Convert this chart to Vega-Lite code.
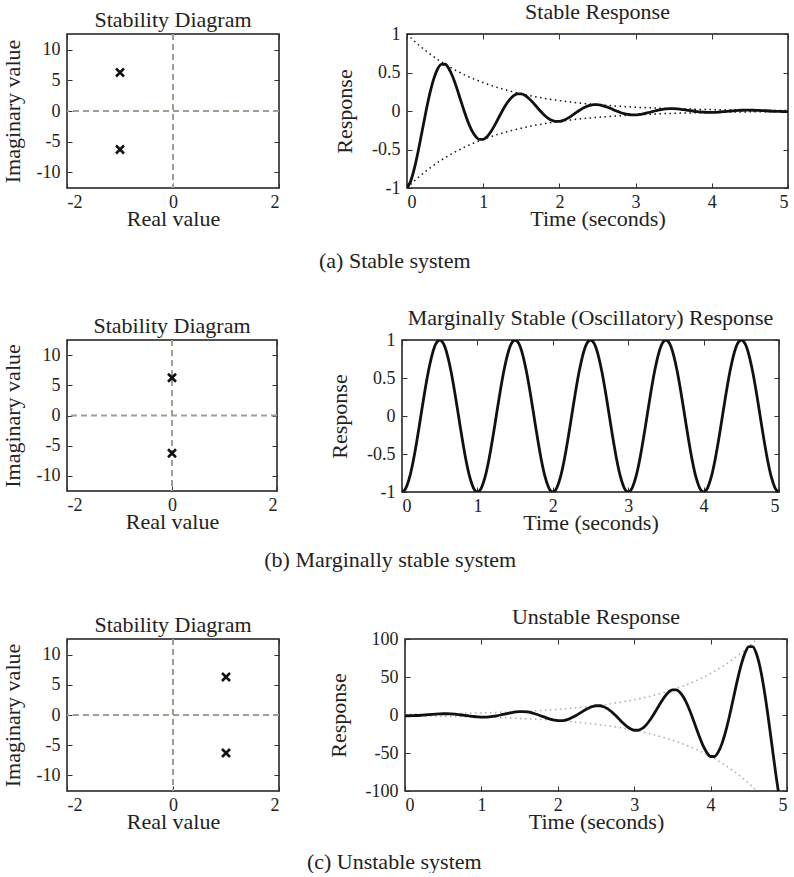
{
  "$schema": "https://vega.github.io/schema/vega-lite/v6.json",
  "background": "white",
  "padding": {"left": 0, "top": 0, "right": 0, "bottom": 0},
  "config": {
    "font": "Liberation Serif, Times New Roman, DejaVu Serif, serif",
    "view": {"stroke": "#1a1a1a", "strokeWidth": 1.5},
    "axis": {"domain": false, "grid": false, "tickSize": -5, "tickColor": "#333", "tickWidth": 1,
      "labelFont": "Liberation Serif, Times New Roman, DejaVu Serif, serif", "labelFontSize": 18, "labelColor": "#222",
      "titleFont": "Liberation Serif, Times New Roman, DejaVu Serif, serif", "titleFontSize": 22, "titleFontWeight": "normal", "titleColor": "#222",
      "labelExpr": "'' + datum.value"},
    "axisBottom": {"labelPadding": 10, "titlePadding": -3},
    "axisLeft": {"labelPadding": 12, "titlePadding": 12},
    "title": {"font": "Liberation Serif, Times New Roman, DejaVu Serif, serif", "fontSize": 22, "fontWeight": "normal", "color": "#222", "frame": "group", "offset": 1}
  },
  "datasets": {
    "poles": [
      {"sys": "a", "re": -1, "im": 6.283}, {"sys": "a", "re": -1, "im": -6.283},
      {"sys": "b", "re": 0, "im": 6.283}, {"sys": "b", "re": 0, "im": -6.283},
      {"sys": "c", "re": 1, "im": 6.283}, {"sys": "c", "re": 1, "im": -6.283}
    ],
    "axes0": [{"v": 0}],
    "resp": [
{"t":0,"s":-1,"se":1,"sl":-1,"m":-1,"u":-1,"ue":1,"ul":-1},
{"t":0.05,"s":-0.905,"se":0.951,"sl":-0.951,"m":-0.951,"u":-1.0,"ue":1.051,"ul":-1.051},
{"t":0.1,"s":-0.732,"se":0.905,"sl":-0.905,"m":-0.809,"u":-0.894,"ue":1.105,"ul":-1.105},
{"t":0.15,"s":-0.506,"se":0.861,"sl":-0.861,"m":-0.588,"u":-0.683,"ue":1.162,"ul":-1.162},
{"t":0.2,"s":-0.253,"se":0.819,"sl":-0.819,"m":-0.309,"u":-0.377,"ue":1.221,"ul":-1.221},
{"t":0.25,"s":0,"se":0.779,"sl":-0.779,"m":0,"u":0,"ue":1.284,"ul":-1.284},
{"t":0.3,"s":0.229,"se":0.741,"sl":-0.741,"m":0.309,"u":0.417,"ue":1.35,"ul":-1.35},
{"t":0.35,"s":0.414,"se":0.705,"sl":-0.705,"m":0.588,"u":0.834,"ue":1.419,"ul":-1.419},
{"t":0.4,"s":0.542,"se":0.67,"sl":-0.67,"m":0.809,"u":1.207,"ue":1.492,"ul":-1.492},
{"t":0.45,"s":0.606,"se":0.638,"sl":-0.638,"m":0.951,"u":1.491,"ue":1.568,"ul":-1.568},
{"t":0.5,"s":0.607,"se":0.607,"sl":-0.607,"m":1,"u":1.649,"ue":1.649,"ul":-1.649},
{"t":0.55,"s":0.549,"se":0.577,"sl":-0.577,"m":0.951,"u":1.648,"ue":1.733,"ul":-1.733},
{"t":0.6,"s":0.444,"se":0.549,"sl":-0.549,"m":0.809,"u":1.474,"ue":1.822,"ul":-1.822},
{"t":0.65,"s":0.307,"se":0.522,"sl":-0.522,"m":0.588,"u":1.126,"ue":1.916,"ul":-1.916},
{"t":0.7,"s":0.153,"se":0.497,"sl":-0.497,"m":0.309,"u":0.622,"ue":2.014,"ul":-2.014},
{"t":0.75,"s":0,"se":0.472,"sl":-0.472,"m":0,"u":0,"ue":2.117,"ul":-2.117},
{"t":0.8,"s":-0.139,"se":0.449,"sl":-0.449,"m":-0.309,"u":-0.688,"ue":2.226,"ul":-2.226},
{"t":0.85,"s":-0.251,"se":0.427,"sl":-0.427,"m":-0.588,"u":-1.376,"ue":2.34,"ul":-2.34},
{"t":0.9,"s":-0.329,"se":0.407,"sl":-0.407,"m":-0.809,"u":-1.99,"ue":2.46,"ul":-2.46},
{"t":0.95,"s":-0.368,"se":0.387,"sl":-0.387,"m":-0.951,"u":-2.459,"ue":2.586,"ul":-2.586},
{"t":1.0,"s":-0.368,"se":0.368,"sl":-0.368,"m":-1,"u":-2.718,"ue":2.718,"ul":-2.718},
{"t":1.05,"s":-0.333,"se":0.35,"sl":-0.35,"m":-0.951,"u":-2.718,"ue":2.858,"ul":-2.858},
{"t":1.1,"s":-0.269,"se":0.333,"sl":-0.333,"m":-0.809,"u":-2.43,"ue":3.004,"ul":-3.004},
{"t":1.15,"s":-0.186,"se":0.317,"sl":-0.317,"m":-0.588,"u":-1.857,"ue":3.158,"ul":-3.158},
{"t":1.2,"s":-0.093,"se":0.301,"sl":-0.301,"m":-0.309,"u":-1.026,"ue":3.32,"ul":-3.32},
{"t":1.25,"s":0,"se":0.287,"sl":-0.287,"m":0,"u":0,"ue":3.49,"ul":-3.49},
{"t":1.3,"s":0.084,"se":0.273,"sl":-0.273,"m":0.309,"u":1.134,"ue":3.669,"ul":-3.669},
{"t":1.35,"s":0.152,"se":0.259,"sl":-0.259,"m":0.588,"u":2.268,"ue":3.857,"ul":-3.857},
{"t":1.4,"s":0.2,"se":0.247,"sl":-0.247,"m":0.809,"u":3.281,"ue":4.055,"ul":-4.055},
{"t":1.45,"s":0.223,"se":0.235,"sl":-0.235,"m":0.951,"u":4.054,"ue":4.263,"ul":-4.263},
{"t":1.5,"s":0.223,"se":0.223,"sl":-0.223,"m":1,"u":4.482,"ue":4.482,"ul":-4.482},
{"t":1.55,"s":0.202,"se":0.212,"sl":-0.212,"m":0.951,"u":4.481,"ue":4.712,"ul":-4.712},
{"t":1.6,"s":0.163,"se":0.202,"sl":-0.202,"m":0.809,"u":4.007,"ue":4.953,"ul":-4.953},
{"t":1.65,"s":0.113,"se":0.192,"sl":-0.192,"m":0.588,"u":3.062,"ue":5.207,"ul":-5.207},
{"t":1.7,"s":0.056,"se":0.183,"sl":-0.183,"m":0.309,"u":1.691,"ue":5.474,"ul":-5.474},
{"t":1.75,"s":0,"se":0.174,"sl":-0.174,"m":0,"u":0,"ue":5.755,"ul":-5.755},
{"t":1.8,"s":-0.051,"se":0.165,"sl":-0.165,"m":-0.309,"u":-1.869,"ue":6.05,"ul":-6.05},
{"t":1.85,"s":-0.092,"se":0.157,"sl":-0.157,"m":-0.588,"u":-3.74,"ue":6.36,"ul":-6.36},
{"t":1.9,"s":-0.121,"se":0.15,"sl":-0.15,"m":-0.809,"u":-5.409,"ue":6.686,"ul":-6.686},
{"t":1.95,"s":-0.135,"se":0.142,"sl":-0.142,"m":-0.951,"u":-6.684,"ue":7.029,"ul":-7.029},
{"t":2.0,"s":-0.135,"se":0.135,"sl":-0.135,"m":-1,"u":-7.389,"ue":7.389,"ul":-7.389},
{"t":2.05,"s":-0.122,"se":0.129,"sl":-0.129,"m":-0.951,"u":-7.387,"ue":7.768,"ul":-7.768},
{"t":2.1,"s":-0.099,"se":0.122,"sl":-0.122,"m":-0.809,"u":-6.606,"ue":8.166,"ul":-8.166},
{"t":2.15,"s":-0.069,"se":0.117,"sl":-0.117,"m":-0.588,"u":-5.048,"ue":8.585,"ul":-8.585},
{"t":2.2,"s":-0.034,"se":0.111,"sl":-0.111,"m":-0.309,"u":-2.789,"ue":9.025,"ul":-9.025},
{"t":2.25,"s":0,"se":0.105,"sl":-0.105,"m":0,"u":0,"ue":9.488,"ul":-9.488},
{"t":2.3,"s":0.031,"se":0.1,"sl":-0.1,"m":0.309,"u":3.082,"ue":9.974,"ul":-9.974},
{"t":2.35,"s":0.056,"se":0.095,"sl":-0.095,"m":0.588,"u":6.166,"ue":10.486,"ul":-10.486},
{"t":2.4,"s":0.073,"se":0.091,"sl":-0.091,"m":0.809,"u":8.918,"ue":11.023,"ul":-11.023},
{"t":2.45,"s":0.082,"se":0.086,"sl":-0.086,"m":0.951,"u":11.02,"ue":11.588,"ul":-11.588},
{"t":2.5,"s":0.082,"se":0.082,"sl":-0.082,"m":1,"u":12.182,"ue":12.182,"ul":-12.182},
{"t":2.55,"s":0.074,"se":0.078,"sl":-0.078,"m":0.951,"u":12.179,"ue":12.807,"ul":-12.807},
{"t":2.6,"s":0.06,"se":0.074,"sl":-0.074,"m":0.809,"u":10.892,"ue":13.464,"ul":-13.464},
{"t":2.65,"s":0.042,"se":0.071,"sl":-0.071,"m":0.588,"u":8.323,"ue":14.154,"ul":-14.154},
{"t":2.7,"s":0.021,"se":0.067,"sl":-0.067,"m":0.309,"u":4.598,"ue":14.88,"ul":-14.88},
{"t":2.75,"s":0,"se":0.064,"sl":-0.064,"m":0,"u":0,"ue":15.643,"ul":-15.643},
{"t":2.8,"s":-0.019,"se":0.061,"sl":-0.061,"m":-0.309,"u":-5.082,"ue":16.445,"ul":-16.445},
{"t":2.85,"s":-0.034,"se":0.058,"sl":-0.058,"m":-0.588,"u":-10.165,"ue":17.288,"ul":-17.288},
{"t":2.9,"s":-0.044,"se":0.055,"sl":-0.055,"m":-0.809,"u":-14.703,"ue":18.174,"ul":-18.174},
{"t":2.95,"s":-0.05,"se":0.052,"sl":-0.052,"m":-0.951,"u":-18.17,"ue":19.106,"ul":-19.106},
{"t":3.0,"s":-0.05,"se":0.05,"sl":-0.05,"m":-1,"u":-20.086,"ue":20.086,"ul":-20.086},
{"t":3.05,"s":-0.045,"se":0.047,"sl":-0.047,"m":-0.951,"u":-20.08,"ue":21.115,"ul":-21.115},
{"t":3.1,"s":-0.036,"se":0.045,"sl":-0.045,"m":-0.809,"u":-17.958,"ue":22.198,"ul":-22.198},
{"t":3.15,"s":-0.025,"se":0.043,"sl":-0.043,"m":-0.588,"u":-13.722,"ue":23.336,"ul":-23.336},
{"t":3.2,"s":-0.013,"se":0.041,"sl":-0.041,"m":-0.309,"u":-7.581,"ue":24.533,"ul":-24.533},
{"t":3.25,"s":0,"se":0.039,"sl":-0.039,"m":0,"u":0,"ue":25.79,"ul":-25.79},
{"t":3.3,"s":0.011,"se":0.037,"sl":-0.037,"m":0.309,"u":8.378,"ue":27.113,"ul":-27.113},
{"t":3.35,"s":0.021,"se":0.035,"sl":-0.035,"m":0.588,"u":16.76,"ue":28.503,"ul":-28.503},
{"t":3.4,"s":0.027,"se":0.033,"sl":-0.033,"m":0.809,"u":24.241,"ue":29.964,"ul":-29.964},
{"t":3.45,"s":0.03,"se":0.032,"sl":-0.032,"m":0.951,"u":29.957,"ue":31.5,"ul":-31.5},
{"t":3.5,"s":0.03,"se":0.03,"sl":-0.03,"m":1,"u":33.115,"ue":33.115,"ul":-33.115},
{"t":3.55,"s":0.027,"se":0.029,"sl":-0.029,"m":0.951,"u":33.107,"ue":34.813,"ul":-34.813},
{"t":3.6,"s":0.022,"se":0.027,"sl":-0.027,"m":0.809,"u":29.608,"ue":36.598,"ul":-36.598},
{"t":3.65,"s":0.015,"se":0.026,"sl":-0.026,"m":0.588,"u":22.623,"ue":38.475,"ul":-38.475},
{"t":3.7,"s":0.008,"se":0.025,"sl":-0.025,"m":0.309,"u":12.498,"ue":40.447,"ul":-40.447},
{"t":3.75,"s":0,"se":0.024,"sl":-0.024,"m":0,"u":0,"ue":42.521,"ul":-42.521},
{"t":3.8,"s":-0.007,"se":0.022,"sl":-0.022,"m":-0.309,"u":-13.813,"ue":44.701,"ul":-44.701},
{"t":3.85,"s":-0.013,"se":0.021,"sl":-0.021,"m":-0.588,"u":-27.632,"ue":46.993,"ul":-46.993},
{"t":3.9,"s":-0.016,"se":0.02,"sl":-0.02,"m":-0.809,"u":-39.966,"ue":49.402,"ul":-49.402},
{"t":3.95,"s":-0.018,"se":0.019,"sl":-0.019,"m":-0.951,"u":-49.39,"ue":51.935,"ul":-51.935},
{"t":4.0,"s":-0.018,"se":0.018,"sl":-0.018,"m":-1,"u":-54.598,"ue":54.598,"ul":-54.598},
{"t":4.05,"s":-0.017,"se":0.017,"sl":-0.017,"m":-0.951,"u":-54.585,"ue":57.397,"ul":-57.397},
{"t":4.1,"s":-0.013,"se":0.017,"sl":-0.017,"m":-0.809,"u":-48.815,"ue":60.34,"ul":-60.34},
{"t":4.15,"s":-0.009,"se":0.016,"sl":-0.016,"m":-0.588,"u":-37.299,"ue":63.434,"ul":-63.434},
{"t":4.2,"s":-0.005,"se":0.015,"sl":-0.015,"m":-0.309,"u":-20.606,"ue":66.686,"ul":-66.686},
{"t":4.25,"s":0,"se":0.014,"sl":-0.014,"m":0,"u":0,"ue":70.105,"ul":-70.105},
{"t":4.3,"s":0.004,"se":0.014,"sl":-0.014,"m":0.309,"u":22.773,"ue":73.7,"ul":-73.7},
{"t":4.35,"s":0.008,"se":0.013,"sl":-0.013,"m":0.588,"u":45.557,"ue":77.478,"ul":-77.478},
{"t":4.4,"s":0.01,"se":0.012,"sl":-0.012,"m":0.809,"u":65.894,"ue":81.451,"ul":-81.451},
{"t":4.45,"s":0.011,"se":0.012,"sl":-0.012,"m":0.951,"u":81.431,"ue":85.627,"ul":-85.627},
{"t":4.5,"s":0.011,"se":0.011,"sl":-0.011,"m":1,"u":90.017,"ue":90.017,"ul":-90.017},
{"t":4.55,"s":0.01,"se":0.011,"sl":-0.011,"m":0.951,"u":89.995,"ue":94.632,"ul":-94.632},
{"t":4.6,"s":0.008,"se":0.01,"sl":-0.01,"m":0.809,"u":80.483,"ue":99.484,"ul":-99.484},
{"t":4.65,"s":0.006,"se":0.01,"sl":-0.01,"m":0.588,"u":61.493,"ue":104.58,"ul":-104.58},
{"t":4.7,"s":0.003,"se":0.009,"sl":-0.009,"m":0.309,"u":33.975,"ue":109.95,"ul":-109.95},
{"t":4.75,"s":0,"se":0.009,"sl":-0.009,"m":0,"u":0,"ue":115.58,"ul":-115.58},
{"t":4.8,"s":-0.003,"se":0.008,"sl":-0.008,"m":-0.309,"u":-37.547,"ue":121.51,"ul":-121.51},
{"t":4.85,"s":-0.005,"se":0.008,"sl":-0.008,"m":-0.588,"u":-75.111,"ue":127.74,"ul":-127.74},
{"t":4.9,"s":-0.006,"se":0.007,"sl":-0.007,"m":-0.809,"u":-108.64,"ue":134.29,"ul":-134.29},
{"t":4.95,"s":-0.007,"se":0.007,"sl":-0.007,"m":-0.951,"u":-134.25,"ue":141.17,"ul":-141.17},
{"t":5.0,"s":-0.007,"se":0.007,"sl":-0.007,"m":-1,"u":-148.41,"ue":148.41,"ul":-148.41}
    ]
  },
  "spacing": 34,
  "vconcat": [
    {
      "title": {"text": "(a) Stable system", "orient": "bottom", "anchor": "middle", "frame": "bounds", "offset": 21},
      "spacing": 51,
      "hconcat": [
        {
          "width": 212, "height": 154,
          "title": {"text": "Stability Diagram"},
          "layer": [
            {"data": {"name": "axes0"}, "mark": {"type": "rule", "color": "#a09e92", "strokeDash": [6, 4], "strokeWidth": 2},
             "encoding": {"x": {"field": "v", "type": "quantitative", "scale": {"domain": [-2, 2], "nice": false}, "axis": {"orient": "top", "values": [-2, 0, 2], "labels": false, "title": null}}}},
            {"data": {"name": "axes0"}, "mark": {"type": "rule", "color": "#a09e92", "strokeDash": [6, 4], "strokeWidth": 2},
             "encoding": {"y": {"field": "v", "type": "quantitative", "scale": {"domain": [-12.566, 12.566], "nice": false}, "axis": {"orient": "right", "values": [-10, -5, 0, 5, 10], "labels": false, "title": null}}}},
            {"data": {"name": "poles"}, "transform": [{"filter": "datum.sys == 'a'"}],
             "mark": {"type": "point", "shape": "M-1,-1L1,1M1,-1L-1,1", "size": 64, "strokeWidth": 2.5, "color": "#111", "filled": false, "opacity": 1},
             "encoding": {
               "x": {"field": "re", "type": "quantitative", "axis": {"orient": "bottom", "values": [-2, 0, 2], "title": "Real value"}},
               "y": {"field": "im", "type": "quantitative", "axis": {"orient": "left", "values": [-10, -5, 0, 5, 10], "title": "Imaginary value"}}}}
          ],
          "resolve": {"axis": {"x": "independent", "y": "independent"}}
        },
        {
          "width": 381, "height": 154,
          "title": {"text": "Stable Response"},
          "data": {"name": "resp"},
          "layer": [
            {"mark": {"type": "line", "color": "#111", "strokeWidth": 1.5, "strokeDash": [1.5, 3.5], "clip": true},
             "encoding": {
               "x": {"field": "t", "type": "quantitative", "scale": {"domain": [0, 5], "nice": false}, "axis": {"orient": "top", "values": [0, 1, 2, 3, 4, 5], "labels": false, "title": null}},
               "y": {"field": "se", "type": "quantitative", "scale": {"domain": [-1, 1], "nice": false}, "axis": {"orient": "right", "values": [-1, -0.5, 0, 0.5, 1], "labels": false, "title": null}}}},
            {"mark": {"type": "line", "color": "#111", "strokeWidth": 1.5, "strokeDash": [1.5, 3.5], "clip": true},
             "encoding": {"x": {"field": "t", "type": "quantitative", "axis": null}, "y": {"field": "sl", "type": "quantitative", "axis": null}}},
            {"mark": {"type": "line", "color": "#111", "strokeWidth": 2.8, "interpolate": "monotone", "clip": true},
             "encoding": {
               "x": {"field": "t", "type": "quantitative", "axis": {"orient": "bottom", "values": [0, 1, 2, 3, 4, 5], "title": "Time (seconds)"}},
               "y": {"field": "s", "type": "quantitative", "axis": {"orient": "left", "values": [-1, -0.5, 0, 0.5, 1], "title": "Response", "titlePadding": 15}}}}
          ],
          "resolve": {"axis": {"x": "independent", "y": "independent"}}
        }
      ]
    },
    {
      "title": {"text": "(b) Marginally stable system", "orient": "bottom", "anchor": "middle", "frame": "bounds", "offset": 16},
      "spacing": 48,
      "hconcat": [
        {
          "width": 210, "height": 151,
          "title": {"text": "Stability Diagram"},
          "layer": [
            {"data": {"name": "axes0"}, "mark": {"type": "rule", "color": "#a09e92", "strokeDash": [6, 4], "strokeWidth": 2},
             "encoding": {"x": {"field": "v", "type": "quantitative", "scale": {"domain": [-2, 2], "nice": false}, "axis": {"orient": "top", "values": [-2, 0, 2], "labels": false, "title": null}}}},
            {"data": {"name": "axes0"}, "mark": {"type": "rule", "color": "#a09e92", "strokeDash": [6, 4], "strokeWidth": 2},
             "encoding": {"y": {"field": "v", "type": "quantitative", "scale": {"domain": [-12.566, 12.566], "nice": false}, "axis": {"orient": "right", "values": [-10, -5, 0, 5, 10], "labels": false, "title": null}}}},
            {"data": {"name": "poles"}, "transform": [{"filter": "datum.sys == 'b'"}],
             "mark": {"type": "point", "shape": "M-1,-1L1,1M1,-1L-1,1", "size": 64, "strokeWidth": 2.5, "color": "#111", "filled": false, "opacity": 1},
             "encoding": {
               "x": {"field": "re", "type": "quantitative", "axis": {"orient": "bottom", "values": [-2, 0, 2], "title": "Real value"}},
               "y": {"field": "im", "type": "quantitative", "axis": {"orient": "left", "values": [-10, -5, 0, 5, 10], "title": "Imaginary value"}}}}
          ],
          "resolve": {"axis": {"x": "independent", "y": "independent"}}
        },
        {
          "width": 377, "height": 152,
          "title": {"text": "Marginally Stable (Oscillatory) Response"},
          "data": {"name": "resp"},
          "layer": [
            {"mark": {"type": "line", "opacity": 0},
             "encoding": {
               "x": {"field": "t", "type": "quantitative", "scale": {"domain": [0, 5], "nice": false}, "axis": {"orient": "top", "values": [0, 1, 2, 3, 4, 5], "labels": false, "title": null}},
               "y": {"field": "m", "type": "quantitative", "scale": {"domain": [-1, 1], "nice": false}, "axis": {"orient": "right", "values": [-1, -0.5, 0, 0.5, 1], "labels": false, "title": null}}}},
            {"mark": {"type": "line", "color": "#111", "strokeWidth": 2.8, "interpolate": "monotone", "clip": true},
             "encoding": {
               "x": {"field": "t", "type": "quantitative", "axis": {"orient": "bottom", "values": [0, 1, 2, 3, 4, 5], "title": "Time (seconds)"}},
               "y": {"field": "m", "type": "quantitative", "axis": {"orient": "left", "values": [-1, -0.5, 0, 0.5, 1], "title": "Response", "titlePadding": 15}}}}
          ],
          "resolve": {"axis": {"x": "independent", "y": "independent"}}
        }
      ]
    },
    {
      "title": {"text": "(c) Unstable system", "orient": "bottom", "anchor": "middle", "frame": "bounds", "offset": 19},
      "spacing": 45,
      "hconcat": [
        {
          "width": 212, "height": 152,
          "title": {"text": "Stability Diagram"},
          "layer": [
            {"data": {"name": "axes0"}, "mark": {"type": "rule", "color": "#a09e92", "strokeDash": [6, 4], "strokeWidth": 2},
             "encoding": {"x": {"field": "v", "type": "quantitative", "scale": {"domain": [-2, 2], "nice": false}, "axis": {"orient": "top", "values": [-2, 0, 2], "labels": false, "title": null}}}},
            {"data": {"name": "axes0"}, "mark": {"type": "rule", "color": "#a09e92", "strokeDash": [6, 4], "strokeWidth": 2},
             "encoding": {"y": {"field": "v", "type": "quantitative", "scale": {"domain": [-12.566, 12.566], "nice": false}, "axis": {"orient": "right", "values": [-10, -5, 0, 5, 10], "labels": false, "title": null}}}},
            {"data": {"name": "poles"}, "transform": [{"filter": "datum.sys == 'c'"}],
             "mark": {"type": "point", "shape": "M-1,-1L1,1M1,-1L-1,1", "size": 64, "strokeWidth": 2.5, "color": "#111", "filled": false, "opacity": 1},
             "encoding": {
               "x": {"field": "re", "type": "quantitative", "axis": {"orient": "bottom", "values": [-2, 0, 2], "title": "Real value"}},
               "y": {"field": "im", "type": "quantitative", "axis": {"orient": "left", "values": [-10, -5, 0, 5, 10], "title": "Imaginary value"}}}}
          ],
          "resolve": {"axis": {"x": "independent", "y": "independent"}}
        },
        {
          "width": 382, "height": 152,
          "title": {"text": "Unstable Response"},
          "data": {"name": "resp"},
          "layer": [
            {"mark": {"type": "line", "color": "#aaaaaa", "strokeWidth": 1.5, "strokeDash": [1.5, 3.5], "clip": true},
             "encoding": {
               "x": {"field": "t", "type": "quantitative", "scale": {"domain": [0, 5], "nice": false}, "axis": {"orient": "top", "values": [0, 1, 2, 3, 4, 5], "labels": false, "title": null}},
               "y": {"field": "ue", "type": "quantitative", "scale": {"domain": [-100, 100], "nice": false}, "axis": {"orient": "right", "values": [-100, -50, 0, 50, 100], "labels": false, "title": null}}}},
            {"mark": {"type": "line", "color": "#aaaaaa", "strokeWidth": 1.5, "strokeDash": [1.5, 3.5], "clip": true},
             "encoding": {"x": {"field": "t", "type": "quantitative", "axis": null}, "y": {"field": "ul", "type": "quantitative", "axis": null}}},
            {"mark": {"type": "line", "color": "#111", "strokeWidth": 2.8, "interpolate": "monotone", "clip": true},
             "encoding": {
               "x": {"field": "t", "type": "quantitative", "axis": {"orient": "bottom", "values": [0, 1, 2, 3, 4, 5], "title": "Time (seconds)"}},
               "y": {"field": "u", "type": "quantitative", "axis": {"orient": "left", "values": [-100, -50, 0, 50, 100], "title": "Response", "titlePadding": 15}}}}
          ],
          "resolve": {"axis": {"x": "independent", "y": "independent"}}
        }
      ]
    }
  ]
}
